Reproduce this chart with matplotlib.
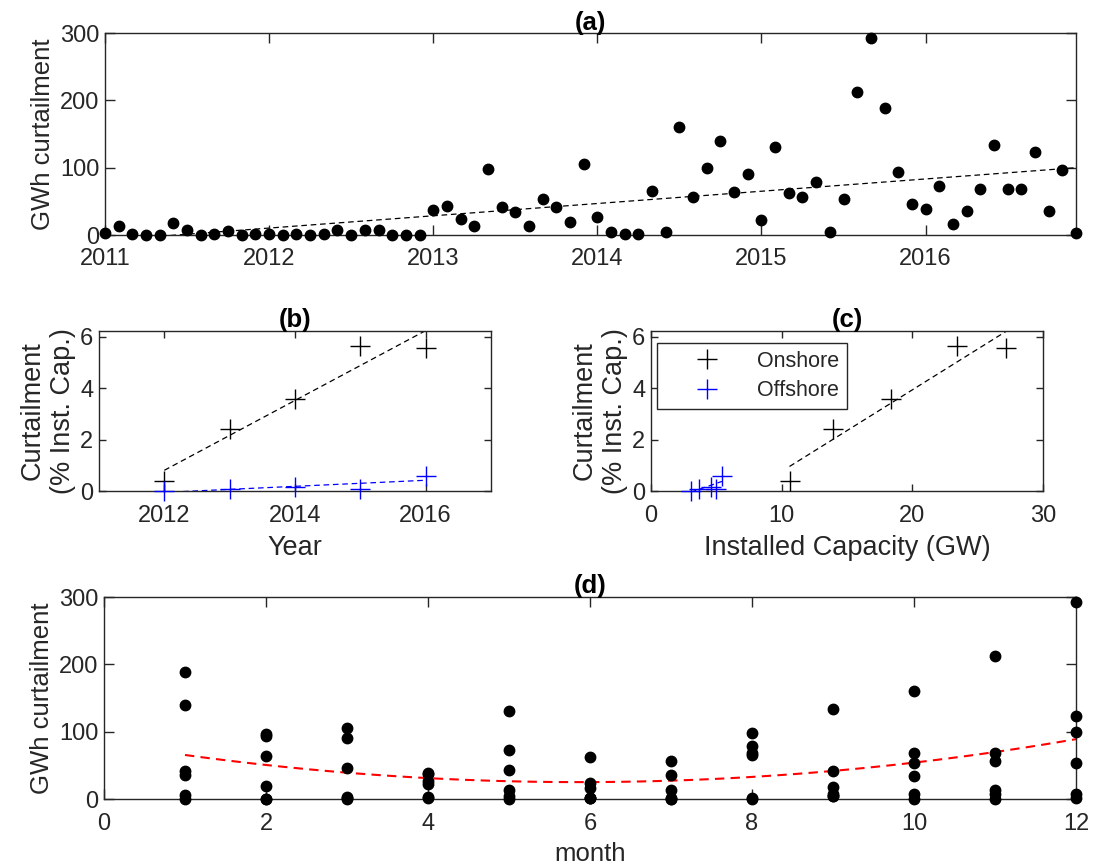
import numpy as np
import matplotlib
matplotlib.use("Agg")
import matplotlib.pyplot as plt

plt.rcParams['font.family'] = ['Liberation Sans', 'DejaVu Sans']

# ---------------- data ----------------
start_year = 2011
# monthly curtailment (GWh), Jan 2011 .. Dec 2016
gwh = [3, 13, 1.5, 0, 0, 18, 8, 0, 2, 6, 0, 1,
       1, 0, 1, 0, 1, 7, 0, 7, 8, 0, 0, 0,
       37, 43, 24, 14, 98, 41, 34, 13, 53, 41, 19, 106,
       26, 4, 1, 2, 66, 5, 160, 57, 99, 140, 64, 90,
       22, 130, 63, 56, 78, 4, 53, 212, 292, 189, 94, 46,
       38, 73, 16, 36, 69, 133, 68, 68, 123, 35, 97, 3]

years = [2012, 2013, 2014, 2015, 2016]
onshore_pct = [0.4, 2.4, 3.6, 5.66, 5.57]
offshore_pct = [0.0, 0.09, 0.15, 0.07, 0.6]
onshore_cap = [10.6, 13.9, 18.4, 23.4, 27.2]
offshore_cap = [3.05, 3.66, 4.58, 5.0, 5.43]

# ---------------- styling ----------------
W, H = 1100, 865
fig = plt.figure(figsize=(W / 100, H / 100), dpi=100)
AXC = (0.15, 0.15, 0.15)
TICK_FS = 17
LAB_FS = 18.5
LAB_FS_BC = 19.5
dash = (0, (4.5, 3))


def style(ax, ticklen=6, xpad=4):
    for s in ax.spines.values():
        s.set_color(AXC)
        s.set_linewidth(1.0)
    ax.tick_params(direction='in', top=True, right=True, length=ticklen,
                   width=1.0, color=AXC, labelcolor=AXC, labelsize=TICK_FS,
                   pad=4)
    ax.tick_params(axis='x', pad=xpad)


def frac(l, t, r, b):
    return [l / W, 1 - b / H, (r - l) / W, (b - t) / H]


# ---------------- (a) ----------------
ax_a = fig.add_axes(frac(105, 33, 1076, 235))
vals = np.array(gwh, dtype=float)
idx = np.arange(len(vals))
t = start_year + idx / 12.0
ax_a.plot(t, vals, 'o', color='k', ms=7.5, clip_on=False, zorder=3)
pa = np.polyfit(t, vals, 1)
ax_a.plot(t, np.polyval(pa, t), color='k', lw=0.9, ls=dash)
ax_a.set_xlim(t[0], t[-1])
ax_a.set_ylim(0, 300)
ax_a.set_xticks(range(2011, 2017))
ax_a.set_xticklabels([str(y) for y in range(2011, 2017)])
ax_a.set_yticks([0, 100, 200, 300])
ax_a.set_ylabel('GWh curtailment', fontsize=LAB_FS, color=AXC)
ax_a.set_title('(a)', fontsize=LAB_FS, fontweight='bold', pad=2)
style(ax_a, 7, xpad=9.5)

# ---------------- (b) ----------------
ax_b = fig.add_axes(frac(99, 331, 491, 491))
yrs = np.array(years, dtype=float)
on = np.array(onshore_pct)
off = np.array(offshore_pct)
ax_b.plot(yrs, on, '+', color='k', ms=15, mew=1.0, clip_on=False, zorder=3)
ax_b.plot(yrs, off, '+', color='b', ms=15, mew=1.0, clip_on=False, zorder=3)
pb_on = np.polyfit(yrs, on, 1)
pb_off = np.polyfit(yrs, off, 1)
ax_b.plot(yrs, np.polyval(pb_on, yrs), color='k', lw=0.9, ls=dash)
ax_b.plot(yrs, np.polyval(pb_off, yrs), color='b', lw=0.9, ls=dash)
ax_b.set_xlim(2011, 2017)
ax_b.set_ylim(0, 6.23)
ax_b.set_xticks([2012, 2014, 2016])
ax_b.set_yticks([0, 2, 4, 6])
ax_b.set_xlabel('Year', fontsize=LAB_FS_BC, color=AXC, labelpad=6)
ax_b.set_ylabel('Curtailment\n(% Inst. Cap.)', fontsize=LAB_FS_BC, color=AXC,
                linespacing=1.2, labelpad=3)
ax_b.set_title('(b)', fontsize=LAB_FS, fontweight='bold', pad=3)
style(ax_b, 5, xpad=10)

# ---------------- (c) ----------------
ax_c = fig.add_axes(frac(651, 331, 1043, 491))
con = np.array(onshore_cap)
coff = np.array(offshore_cap)
ax_c.plot(con, on, '+', color='k', ms=15, mew=1.0, clip_on=False, zorder=3,
          label='Onshore')
ax_c.plot(coff, off, '+', color='b', ms=15, mew=1.0, clip_on=False, zorder=3,
          label='Offshore')
pc_on = np.polyfit(con, on, 1)
pc_off = np.polyfit(coff, off, 1)
ax_c.plot(con, np.polyval(pc_on, con), color='k', lw=0.9, ls=dash)
ax_c.plot(coff, np.polyval(pc_off, coff), color='b', lw=0.9, ls=dash)
ax_c.set_xlim(0, 30)
ax_c.set_ylim(0, 6.23)
ax_c.set_xticks([0, 10, 20, 30])
ax_c.set_yticks([0, 2, 4, 6])
ax_c.set_xlabel('Installed Capacity (GW)', fontsize=LAB_FS_BC, color=AXC,
                labelpad=6)
ax_c.set_ylabel('Curtailment\n(% Inst. Cap.)', fontsize=LAB_FS_BC, color=AXC,
                linespacing=1.2, labelpad=3)
ax_c.set_title('(c)', fontsize=LAB_FS, fontweight='bold', pad=3)
style(ax_c, 5, xpad=10)
leg = ax_c.legend(loc='upper left', fontsize=15.5, frameon=True,
                  fancybox=False, edgecolor=AXC, framealpha=1,
                  handlelength=4.0, handletextpad=0.3, borderpad=0.35,
                  labelspacing=0.4, bbox_to_anchor=(0.015, 0.925),
                  borderaxespad=0)
leg.get_frame().set_linewidth(1.0)
for txt in leg.get_texts():
    txt.set_color(AXC)

# ---------------- (d) ----------------
ax_d = fig.add_axes(frac(104, 597, 1076, 799))
month_d = (idx + 3) % 12 + 1
ax_d.plot(month_d, vals, 'o', color='k', ms=7.5, clip_on=False, zorder=3)
pd_ = np.polyfit(month_d, vals, 2)
mm = np.linspace(1, 12, 100)
ax_d.plot(mm, np.polyval(pd_, mm), color='r', lw=1.5, ls=dash)
ax_d.set_xlim(0, 12)
ax_d.set_ylim(0, 300)
ax_d.set_xticks(range(0, 13, 2))
ax_d.set_yticks([0, 100, 200, 300])
ax_d.set_xlabel('month', fontsize=LAB_FS, color=AXC, labelpad=5)
ax_d.set_ylabel('GWh curtailment', fontsize=LAB_FS, color=AXC)
ax_d.set_title('(d)', fontsize=LAB_FS, fontweight='bold', pad=3)
style(ax_d, 7, xpad=10)

fig.savefig('out.png', dpi=100, facecolor='white')
